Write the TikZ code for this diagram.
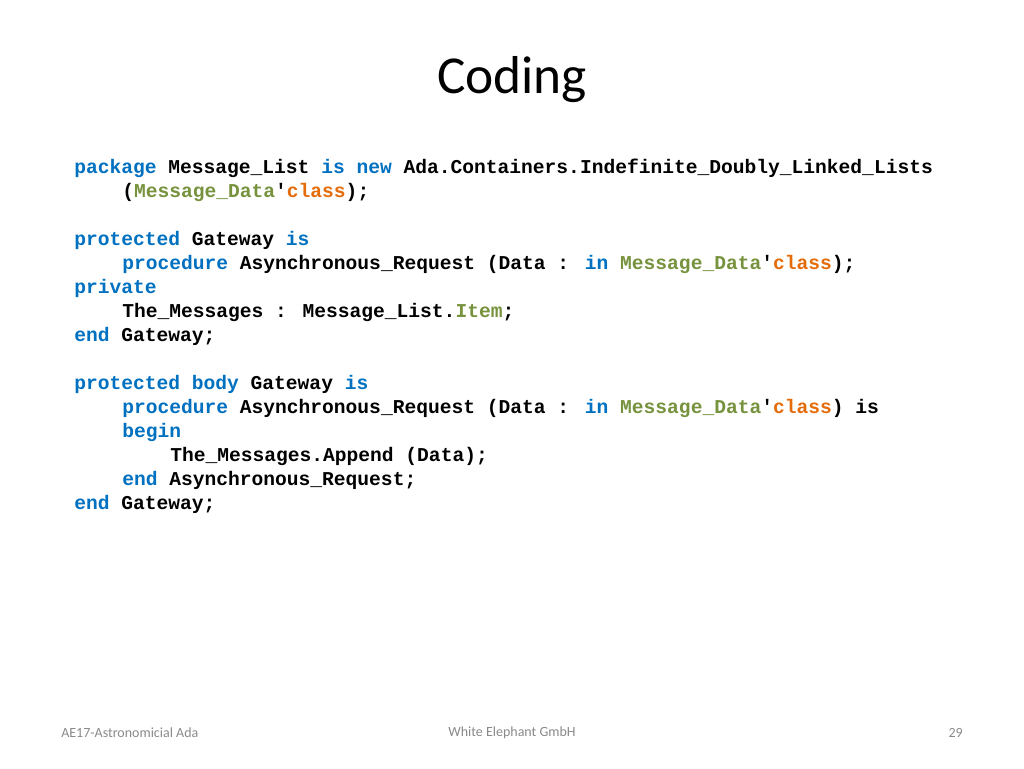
\documentclass[tikz,border=0pt]{standalone}
\usepackage{fontspec}
\setmainfont{Carlito}
\newfontfamily\codef{Liberation Mono}[FakeBold=0]
\definecolor{kw}{RGB}{0,112,192}
\definecolor{ty}{RGB}{118,146,60}
\definecolor{cl}{RGB}{228,108,10}
\definecolor{ft}{RGB}{137,137,137}
\newcommand{\K}[1]{\textcolor{kw}{#1}}
\newcommand{\T}[1]{\textcolor{ty}{#1}}
\newcommand{\C}[1]{\textcolor{cl}{#1}}
\begin{document}
\begin{tikzpicture}[x=0.75pt,y=-0.75pt,
  code/.style={anchor=base west,inner sep=0pt,font=\codef\bfseries\fontsize{14.7}{18}\selectfont},
  foot/.style={inner sep=0pt,text=ft,font=\fontsize{10.5}{12}\selectfont}]
\useasboundingbox (0,0) rectangle (1024,768);
\node[inner sep=0pt,font=\fontsize{40}{48}\selectfont] (title) at (512,80) {Coding};
\node[code] (l1) at (74,173) {\K{package} Message\_List \K{is} \K{new} Ada.Containers.Indefinite\_Doubly\_Linked\_Lists};
\node[code] (l2) at (122,197) {(\T{Message\_Data}'\C{class});};
\node[code] (l3) at (74,245) {\K{protected} Gateway \K{is}};
\node[code] (l4) at (122,269) {\K{procedure} Asynchronous\_Request (Data : \K{in} \T{Message\_Data}'\C{class});};
\node[code] (l5) at (74,293) {\K{private}};
\node[code] (l6) at (122,317) {The\_Messages : Message\_List.\T{Item};};
\node[code] (l7) at (74,341) {\K{end} Gateway;};
\node[code] (l8) at (74,389) {\K{protected} \K{body} Gateway \K{is}};
\node[code] (l9) at (122,413) {\K{procedure} Asynchronous\_Request (Data : \K{in} \T{Message\_Data}'\C{class}) is};
\node[code] (l10) at (122,437) {\K{begin}};
\node[code] (l11) at (170,461) {The\_Messages.Append (Data);};
\node[code] (l12) at (122,485) {\K{end} Asynchronous\_Request;};
\node[code] (l13) at (74,509) {\K{end} Gateway;};
\node[foot,anchor=west] (f1) at (61,733) {AE17-Astronomicial Ada};
\node[foot] (f2) at (512,733) {White Elephant GmbH};
\node[foot,anchor=east] (f3) at (963,733) {29};
\end{tikzpicture}
\end{document}
